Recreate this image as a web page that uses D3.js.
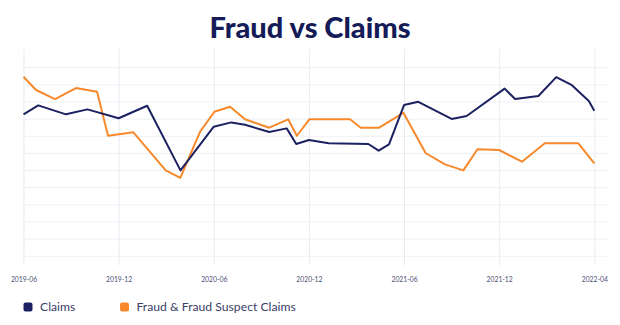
<!DOCTYPE html>
<html>
<head>
<meta charset="utf-8">
<script src="https://cdn.jsdelivr.net/npm/d3@7"></script>
<style>
  html, body { margin: 0; padding: 0; background: #fff; }
  svg { display: block; }
</style>
</head>
<body>
<svg id="chart"></svg>
<script>
// months counted from 2019-06
const tickMonths = [0, 6, 12, 18, 24, 30, 34];
const tickLabels = ["2019-06", "2019-12", "2020-06", "2020-12", "2021-06", "2021-12", "2022-04"];

const claimsMonths = [0, 0.93, 2.68, 4.03, 6.0, 7.8, 9.9, 12.0, 13.1, 13.97, 15.5, 16.6, 17.2, 18.0, 19.25, 21.75, 22.4, 23.05, 24.0, 24.9, 27.0, 27.95, 30.23, 30.67, 31.65, 32.4, 33.06, 33.43, 33.77, 34.0];
const claimsValues = [8.28, 8.80, 8.28, 8.57, 8.05, 8.78, 5.01, 7.56, 7.81, 7.67, 7.25, 7.46, 6.55, 6.78, 6.59, 6.55, 6.16, 6.53, 8.82, 9.01, 8.01, 8.18, 9.78, 9.17, 9.35, 10.45, 9.98, 9.50, 9.06, 8.49];

const fraudMonths = [0, 0.79, 1.99, 3.31, 4.64, 5.33, 6.93, 8.97, 9.89, 11.14, 12.04, 13.03, 13.97, 15.5, 16.69, 17.24, 18.03, 20.6, 21.27, 22.43, 23.96, 25.37, 26.59, 27.74, 28.63, 30.0, 30.96, 31.92, 33.33, 34.0];
const fraudValues = [10.47, 9.70, 9.17, 9.81, 9.60, 7.03, 7.23, 5.01, 4.58, 7.27, 8.43, 8.72, 7.99, 7.50, 7.99, 7.03, 7.99, 7.99, 7.50, 7.50, 8.37, 6.01, 5.36, 5.01, 6.24, 6.20, 5.52, 6.59, 6.59, 5.42];

const seriesNames = ["Claims", "Fraud & Fraud Suspect Claims"];
const seriesColors = ["#1b2161", "#f7892c"];

const W = 620, H = 325;
const left = 23.5, lastTick = 594.3, right = 607;
const bottom = 256.3, topGrid = 67.7, plotTop = 49;

const svg = d3.select("#chart").attr("width", W).attr("height", H);

const step = (lastTick - left) / (tickMonths.length - 1);
const x = d3.scaleLinear().domain(tickMonths).range(tickMonths.map((d, i) => left + i * step));
const y = d3.scaleLinear().domain([0, 11]).range([bottom, topGrid]);

// horizontal grid
svg.append("g")
    .selectAll("line")
    .data(d3.range(0, 12))
    .enter().append("line")
    .attr("x1", left).attr("x2", right)
    .attr("y1", d => y(d)).attr("y2", d => y(d))
    .attr("stroke", "#eef0f5").attr("stroke-width", 1);

// vertical grid + tick labels
const xAxis = svg.append("g")
    .attr("transform", `translate(0,${bottom})`)
    .call(d3.axisBottom(x).tickValues(tickMonths).tickFormat((d, i) => tickLabels[i])
        .tickSize(-(bottom - plotTop)).tickSizeOuter(0));
xAxis.select(".domain").remove();
xAxis.selectAll(".tick line")
    .attr("y2", -(bottom - plotTop))
    .attr("y1", 9)
    .attr("stroke", "#e9ebf3");
xAxis.selectAll(".tick text")
    .attr("y", 25.5)
    .attr("dy", 0)
    .style("font-family", "Lato, sans-serif")
    .style("font-size", "6.8px")
    .attr("fill", "#4b5075");

const line = d3.line().x(d => x(d[0])).y(d => y(d[1]));

const series = [
    d3.zip(fraudMonths, fraudValues),
    d3.zip(claimsMonths, claimsValues)
];
const order = [1, 0];

svg.append("g")
    .selectAll("path")
    .data(series)
    .enter().append("path")
    .attr("d", line)
    .attr("fill", "none")
    .attr("stroke", (d, i) => seriesColors[order[i]])
    .attr("stroke-width", 2)
    .attr("stroke-linejoin", "round");

// title
svg.append("text")
    .attr("x", W / 2)
    .attr("y", 38)
    .attr("text-anchor", "middle")
    .style("font-family", "Lato, sans-serif")
    .style("font-weight", "900")
    .style("font-size", "29px")
    .attr("fill", "#141b57")
    .text("Fraud vs Claims");

// legend
const legendX = [23.5, 120];
const legend = svg.append("g")
    .selectAll("g")
    .data(seriesNames)
    .enter().append("g")
    .attr("transform", (d, i) => `translate(${legendX[i]},302.5)`);
legend.append("rect")
    .attr("width", 9).attr("height", 9)
    .attr("rx", 2)
    .attr("fill", (d, i) => seriesColors[i]);
legend.append("text")
    .attr("x", 16.5)
    .attr("y", 8.8)
    .style("font-family", "Lato, sans-serif")
    .style("font-size", "12.2px")
    .attr("fill", "#3b4068")
    .text(d => d);
</script>
</body>
</html>
